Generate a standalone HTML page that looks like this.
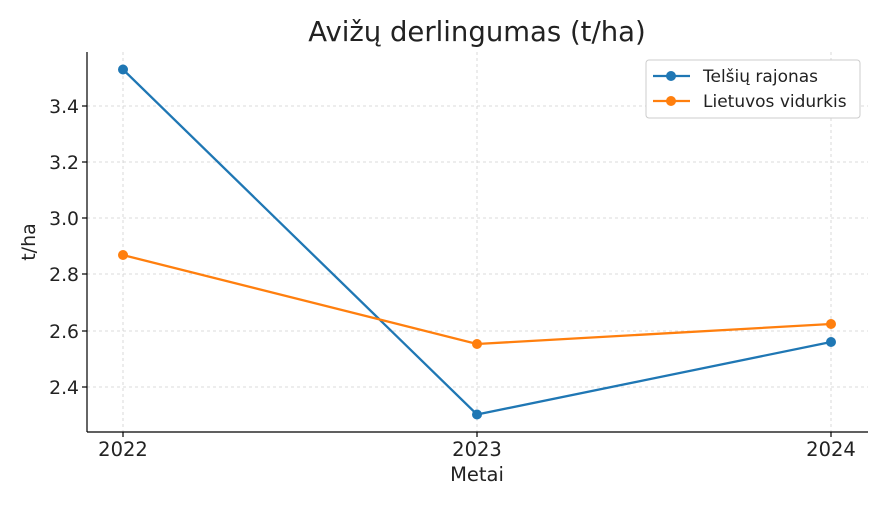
<!DOCTYPE html>
<html><head><meta charset="utf-8"><style>body{margin:0;background:#fff}svg{display:block}</style></head><body>
<svg width="886" height="506" xmlns="http://www.w3.org/2000/svg" font-family="'DejaVu Sans','Liberation Sans',sans-serif">
<rect width="886" height="506" fill="#fff"/>
<g stroke="#cfcfcf" stroke-dasharray="3,3" stroke-width="0.8">
<line x1="123" y1="52" x2="123" y2="432"/><line x1="477" y1="52" x2="477" y2="432"/><line x1="831" y1="52" x2="831" y2="432"/>
<line x1="87" y1="106" x2="868" y2="106"/><line x1="87" y1="162" x2="868" y2="162"/><line x1="87" y1="218" x2="868" y2="218"/>
<line x1="87" y1="274" x2="868" y2="274"/><line x1="87" y1="331" x2="868" y2="331"/><line x1="87" y1="387" x2="868" y2="387"/>
</g>
<g stroke="#000" stroke-width="1.2"><line x1="87" y1="52" x2="87" y2="432"/><line x1="87" y1="432" x2="868" y2="432"/>
<line x1="82" y1="106" x2="87" y2="106"/><line x1="82" y1="162" x2="87" y2="162"/><line x1="82" y1="218" x2="87" y2="218"/><line x1="82" y1="274" x2="87" y2="274"/><line x1="82" y1="331" x2="87" y2="331"/><line x1="82" y1="387" x2="87" y2="387"/>
<line x1="123" y1="432" x2="123" y2="437"/><line x1="477" y1="432" x2="477" y2="437"/><line x1="831" y1="432" x2="831" y2="437"/></g>
<g font-size="18.8" fill="#222" text-anchor="end"><text x="79" y="113">3.4</text><text x="79" y="169">3.2</text><text x="79" y="225">3.0</text><text x="79" y="281">2.8</text><text x="79" y="338">2.6</text><text x="79" y="394">2.4</text></g>
<g font-size="19.5" fill="#222" text-anchor="middle"><text x="123" y="456">2022</text><text x="477" y="456">2023</text><text x="831" y="456">2024</text>
<text x="477" y="481">Metai</text><text x="477" y="41" font-size="27.5">Avižų derlingumas (t/ha)</text></g>
<text transform="translate(35,242) rotate(-90)" font-size="19" fill="#222" text-anchor="middle">t/ha</text>
<polyline points="123,69.5 477,414.5 831,342" fill="none" stroke="#1f77b4" stroke-width="2.3"/>
<polyline points="123,255 477,344 831,324" fill="none" stroke="#ff7f0e" stroke-width="2.3"/>
<g fill="#1f77b4"><circle cx="123" cy="69.5" r="5"/><circle cx="477" cy="414.5" r="5"/><circle cx="831" cy="342" r="5"/></g>
<g fill="#ff7f0e"><circle cx="123" cy="255" r="5"/><circle cx="477" cy="344" r="5"/><circle cx="831" cy="324" r="5"/></g>
<rect x="646" y="60" width="214" height="58" rx="3" fill="#fff" stroke="#ccc"/>
<line x1="653" y1="76" x2="690" y2="76" stroke="#1f77b4" stroke-width="2.3"/><circle cx="671" cy="76" r="5" fill="#1f77b4"/>
<line x1="653" y1="101" x2="690" y2="101" stroke="#ff7f0e" stroke-width="2.3"/><circle cx="671" cy="101" r="5" fill="#ff7f0e"/>
<text x="703" y="82" font-size="17" fill="#222">Telšių rajonas</text><text x="703" y="107" font-size="17" fill="#222">Lietuvos vidurkis</text>
</svg></body></html>
